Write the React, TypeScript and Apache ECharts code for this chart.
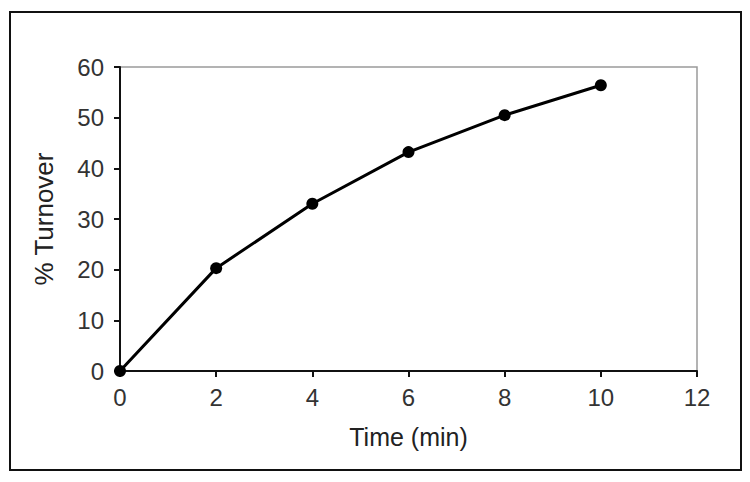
import React, { useEffect, useRef } from "react";
import * as echarts from "echarts";

const timeMin = [0, 2, 4, 6, 8, 10];
const turnover = [0, 20.3, 33.0, 43.2, 50.5, 56.4];
const xTicks = [0, 2, 4, 6, 8, 10, 12];
const yTicks = [0, 10, 20, 30, 40, 50, 60];

export default function App() {
  const ref = useRef<HTMLDivElement>(null);
  useEffect(() => {
    document.body.style.margin = "0";
    const chart = echarts.init(ref.current!, null, { renderer: "svg" });
    const font = "Liberation Sans, Arial, sans-serif";
    chart.setOption({
      animation: false,
      backgroundColor: "#ffffff",
      grid: { left: 120, top: 67, right: 53, bottom: 111, show: true, borderColor: "#9a9a9a", borderWidth: 1.5, containLabel: false },
      graphic: [
        {
          type: "rect",
          shape: { x: 10, y: 12, width: 731, height: 458 },
          style: { fill: "none", stroke: "#111", lineWidth: 2 },
          silent: true,
        },
      ],
      xAxis: {
        type: "value",
        min: xTicks[0],
        max: xTicks[xTicks.length - 1],
        interval: 2,
        name: "Time (min)",
        nameLocation: "middle",
        nameGap: 53,
        nameTextStyle: { color: "#222", fontSize: 25, fontFamily: font },
        axisLine: { show: true, onZero: false, lineStyle: { color: "#111", width: 2 } },
        axisTick: { show: true, inside: false, length: 6, lineStyle: { color: "#111", width: 2 } },
        axisLabel: { color: "#333", fontSize: 24, fontFamily: font, margin: 14 },
        splitLine: { show: false },
      },
      yAxis: {
        type: "value",
        min: yTicks[0],
        max: yTicks[yTicks.length - 1],
        interval: 10,
        name: "% Turnover",
        nameLocation: "middle",
        nameGap: 63,
        nameRotate: 90,
        nameTextStyle: { color: "#222", fontSize: 26, fontFamily: font },
        axisLine: { show: true, onZero: false, lineStyle: { color: "#111", width: 2 } },
        axisTick: { show: true, inside: false, length: 6, lineStyle: { color: "#111", width: 2 } },
        axisLabel: { color: "#333", fontSize: 24, fontFamily: font, margin: 16 },
        splitLine: { show: false },
      },
      series: [
        {
          type: "line",
          data: timeMin.map((t, i) => [t, turnover[i]]),
          symbol: "circle",
          symbolSize: 12,
          lineStyle: { color: "#000", width: 3 },
          itemStyle: { color: "#000" },
        },
      ],
    });
    return () => chart.dispose();
  }, []);
  return <div ref={ref} style={{ width: 750, height: 482 }} />;
}
